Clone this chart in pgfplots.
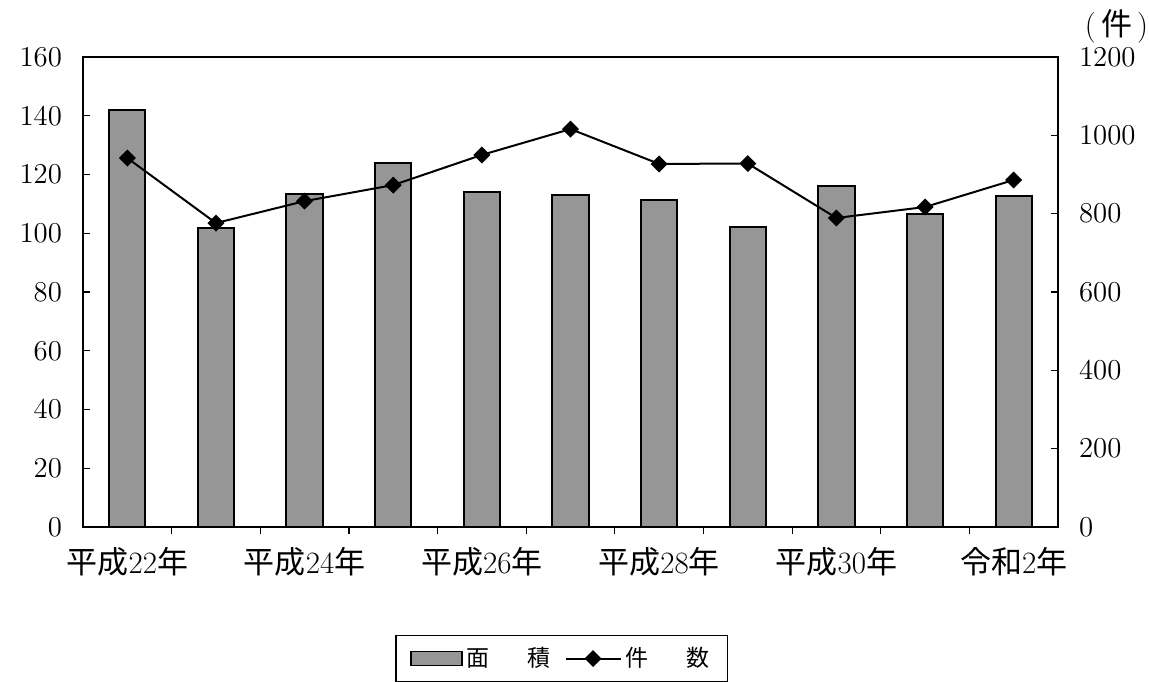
\documentclass[border=0pt]{standalone}
\usepackage{pgfplots}
\pgfplotsset{compat=1.18}
\usepackage{fontspec}
\newfontfamily\jp{Noto Sans CJK JP}
\definecolor{barfill}{RGB}{150,150,150}
\begin{document}
\begin{tikzpicture}
\path[use as bounding box] (-41.5pt,-77pt) rectangle (533pt,263.5pt);
\begin{axis}[
  at={(0pt,0pt)}, anchor=south west,
  scale only axis, width=487.5pt, height=235pt,
  xmin=-0.5, xmax=10.5, ymin=0, ymax=160,
  ytick={0,20,...,160},
  xtick={0,2,4,6,8,10},
  xticklabels={{\jp 平成}22{\jp 年},{\jp 平成}24{\jp 年},{\jp 平成}26{\jp 年},{\jp 平成}28{\jp 年},{\jp 平成}30{\jp 年},{\jp 令和}2{\jp 年}},
  minor xtick={0.5,1.5,...,9.5},
  major x tick style={draw=none},
  xtick pos=bottom, ytick pos=left,
  tick align=inside,
  major tick length=3.5pt, minor tick length=3.5pt,
  tick style={black, line width=0.6pt},
  axis line style={line width=1.2pt},
  ticklabel style={font=\fontsize{15.5}{17}\selectfont},
  yticklabel style={xshift=-7pt},
  xticklabel style={yshift=-3pt},
  ybar, bar width=0.41, bar shift=0pt,
]
\addplot[ybar, fill=barfill, draw=black, line width=1pt] coordinates {
(0,142.0) (1,101.8) (2,113.4) (3,123.9) (4,114.0) (5,113.0) (6,111.3) (7,102.1) (8,116.1) (9,106.6) (10,112.7)};
\end{axis}
\begin{axis}[
  at={(0pt,0pt)}, anchor=south west,
  scale only axis, width=487.5pt, height=235pt,
  xmin=-0.5, xmax=10.5, ymin=0, ymax=1200,
  ytick={0,200,...,1200},
  /pgf/number format/1000 sep={},
  axis x line=none, axis y line*=right,
  ytick pos=right,
  tick align=inside,
  major tick length=3.5pt,
  tick style={black, line width=0.6pt},
  axis line style={line width=1.2pt},
  ticklabel style={font=\fontsize{15.5}{17}\selectfont},
  yticklabel style={xshift=7pt},
  clip=false,
  legend style={at={(0.491,-0.28)}, anchor=center, draw=black, line width=0.6pt,
    font=\fontsize{11.5}{13}\selectfont\jp, legend columns=2,
    inner xsep=7pt, inner ysep=4pt,
    /tikz/every even column/.append style={column sep=5pt}},
  legend cell align=left,
]
\addlegendimage{legend image code/.code={\draw[fill=barfill, draw=black, line width=0.8pt] (-2pt,-3.5pt) rectangle (23.5pt,3.5pt);}}
\addlegendentry{面\hspace{1.65em}積}
\addplot[black, line width=1pt, mark=square*, mark size=2.5pt, mark options={rotate=45, solid},
  legend image code/.code={\draw[black, line width=1pt] (-2pt,0pt) -- (25.5pt,0pt);
    \fill[black] (11.75pt,3.5pt) -- (15.25pt,0pt) -- (11.75pt,-3.5pt) -- (8.25pt,0pt) -- cycle;}]
  coordinates {(0,942) (1,776) (2,832) (3,873) (4,950) (5,1016) (6,927) (7,928) (8,789) (9,817) (10,886)};
\addlegendentry{件\hspace{1.65em}数}
\node[font=\fontsize{15.5}{17}\selectfont] at (rel axis cs:1.06,1.065) {(\,{\jp 件}\,)};
\end{axis}
\end{tikzpicture}
\end{document}
